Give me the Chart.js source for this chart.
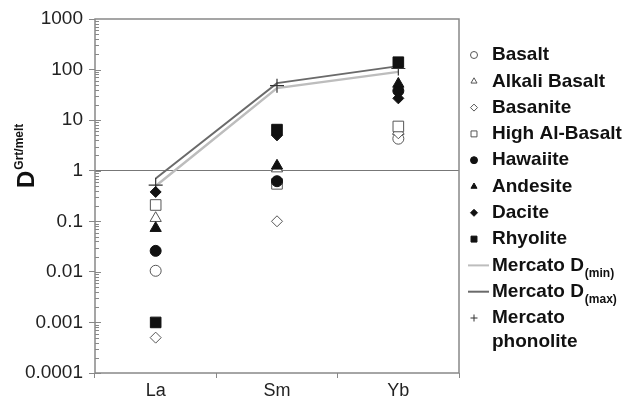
<!DOCTYPE html>
<html lang="en">
<head>
<meta charset="UTF-8">
<title>Garnet/melt partition coefficients</title>
<script src="https://cdn.jsdelivr.net/npm/chart.js"></script>
<style>
    html, body { margin: 0; padding: 0; background: #fff; }
    #wrap { width: 630px; height: 405px; }
</style>
</head>
<body>
<div id="wrap"><canvas id="myChart"></canvas></div>
<script>
// categories and values
const elements = ['La', 'Sm', 'Yb'];
const yTicks = [0.0001, 0.001, 0.01, 0.1, 1, 10, 100, 1000];

const basalt = [0.0105, 0.6, 4.3];
const alkaliBasalt = [0.115, 1.1, 6];
const basanite = [0.0005, 0.1, 5.5];
const highAlBasalt = [0.21, 0.55, 7.5];
const hawaiite = [0.026, 0.62, 38];
const andesite = [0.073, 1.25, 52];
const dacite = [0.38, 5, 27];
const rhyolite = [0.001, 6.5, 140];
const mercatoMin = [0.5, 43, 90];
const mercatoMax = [0.7, 54, 117];
const mercatoPhonolite = [0.52, 48, 105];

const FONT = "'Liberation Sans', Arial, sans-serif";
Chart.defaults.font.family = FONT;

function pts(label, data, style, filled, radius, order) {
    return {
        label: label,
        data: data,
        showLine: false,
        pointStyle: style,
        pointRadius: radius,
        pointBackgroundColor: filled ? '#111' : '#fff',
        pointBorderColor: filled ? '#111' : '#555',
        pointBorderWidth: 1,
        order: order
    };
}

const datasets = [
    pts('Basalt', basalt, 'circle', false, 5.5, 8),
    pts('Alkali Basalt', alkaliBasalt, 'triangle', false, 6.5, 7),
    pts('Basanite', basanite, 'rectRot', false, 5.5, 6),
    pts('High Al-Basalt', highAlBasalt, 'rect', false, 7.5, 5),
    pts('Hawaiite', hawaiite, 'circle', true, 5.5, 4),
    pts('Andesite', andesite, 'triangle', true, 6.5, 3),
    pts('Dacite', dacite, 'rectRot', true, 5.5, 2),
    pts('Rhyolite', rhyolite, 'rect', true, 7.5, 1),
    {
        label: 'Mercato D(min)', sub: '(min)',
        data: mercatoMin, borderColor: '#bdbdbd', borderWidth: 2.5,
        pointRadius: 0, tension: 0, order: 11
    },
    {
        label: 'Mercato D(max)', sub: '(max)',
        data: mercatoMax, borderColor: '#6a6a6a', borderWidth: 2,
        pointRadius: 0, tension: 0, order: 10
    },
    {
        label: 'Mercato phonolite', lines: ['Mercato', 'phonolite'],
        data: mercatoPhonolite, showLine: false, pointStyle: 'cross',
        pointRadius: 7, pointBorderColor: '#333', pointBorderWidth: 1.2, order: 9
    }
];

function marker(ctx, ds, x, y, r) {
    ctx.save();
    ctx.fillStyle = ds.pointBackgroundColor || '#fff';
    ctx.strokeStyle = ds.pointBorderColor || '#333';
    ctx.lineWidth = 1;
    Chart.helpers.drawPoint(ctx, { pointStyle: ds.pointStyle, radius: r, rotation: 0, borderWidth: 1 }, x, y);
    ctx.restore();
}

const extras = {
    id: 'extras',
    beforeDatasetsDraw(chart) {
        const ctx = chart.ctx, a = chart.chartArea, y = chart.scales.y;
        ctx.save();
        // frame
        ctx.strokeStyle = '#888';
        ctx.lineWidth = 1.5;
        ctx.strokeRect(a.left, a.top, a.right - a.left, a.bottom - a.top);
        // minor log ticks inside the y axis
        ctx.lineWidth = 1;
        ctx.beginPath();
        for (let d = 0.0001; d < 1000; d *= 10) {
            for (let k = 1; k <= 9; k++) {
                const py = Math.round(y.getPixelForValue(k * d)) + 0.5;
                const len = k === 1 ? 6 : 4;
                ctx.moveTo(a.left, py);
                ctx.lineTo(a.left + len, py);
            }
        }
        ctx.stroke();
        ctx.restore();
    },
    afterDraw(chart) {
        const ctx = chart.ctx;
        ctx.save();
        // y title: D with superscript Grt/melt
        ctx.translate(26, 188);
        ctx.rotate(-Math.PI / 2);
        ctx.fillStyle = '#111';
        ctx.textBaseline = 'alphabetic';
        ctx.font = 'bold 24px ' + FONT;
        ctx.fillText('D', 0, 8);
        const dw = ctx.measureText('D').width;
        ctx.font = 'bold 12px ' + FONT;
        ctx.fillText('Grt/melt', dw + 1, -3);
        ctx.restore();

        // legend
        ctx.save();
        const mx = 474, tx = 492, top = 55, step = 26.3;
        ctx.textBaseline = 'middle';
        ctx.fillStyle = '#111';
        chart.data.datasets.forEach((ds, i) => {
            const cy = top + i * step;
            if (ds.pointRadius === 0) {
                ctx.strokeStyle = ds.borderColor;
                ctx.lineWidth = 2;
                ctx.beginPath();
                ctx.moveTo(468, cy);
                ctx.lineTo(489, cy);
                ctx.stroke();
            } else {
                const r = ds.pointStyle === 'rect' ? 4.2 : 3.5;
                marker(ctx, ds, mx, cy, r);
            }
            ctx.fillStyle = '#111';
            ctx.font = 'bold 19px ' + FONT;
            if (ds.sub) {
                ctx.fillText('Mercato D', tx, cy);
                const w = ctx.measureText('Mercato D').width;
                ctx.font = 'bold 12px ' + FONT;
                ctx.fillText(ds.sub, tx + w + 1, cy + 8);
            } else if (ds.lines) {
                ctx.fillText(ds.lines[0], tx, cy);
                ctx.fillText(ds.lines[1], tx, cy + 24);
            } else {
                ctx.fillText(ds.label, tx, cy);
            }
        });
        ctx.restore();
    }
};

new Chart(document.getElementById('myChart'), {
    type: 'line',
    data: { labels: elements, datasets: datasets },
    options: {
        responsive: true,
        maintainAspectRatio: false,
        animation: false,
        layout: { padding: { left: 0, right: 171, top: 19, bottom: 0 } },
        plugins: { legend: { display: false }, tooltip: { enabled: false } },
        scales: {
            x: {
                type: 'category',
                offset: true,
                afterFit: s => { s.height = 32; },
                grid: { offset: true, drawOnChartArea: false, tickLength: 5, tickColor: '#888' },
                border: { display: false },
                ticks: { color: '#222', font: { size: 18 }, padding: 2 }
            },
            y: {
                type: 'logarithmic',
                min: 0.0001,
                max: 1000,
                afterFit: s => { s.width = 95; },
                afterBuildTicks: s => { s.ticks = yTicks.map(v => ({ value: v })); },
                grid: {
                    drawOnChartArea: true,
                    color: c => (c.tick && c.tick.value === 1) ? '#777' : 'rgba(0,0,0,0)',
                    tickColor: '#888',
                    tickLength: 6
                },
                border: { display: false },
                ticks: {
                    color: '#222',
                    font: { size: 19 },
                    padding: 6,
                    callback: v => String(v)
                }
            }
        }
    },
    plugins: [extras]
});
</script>
</body>
</html>
